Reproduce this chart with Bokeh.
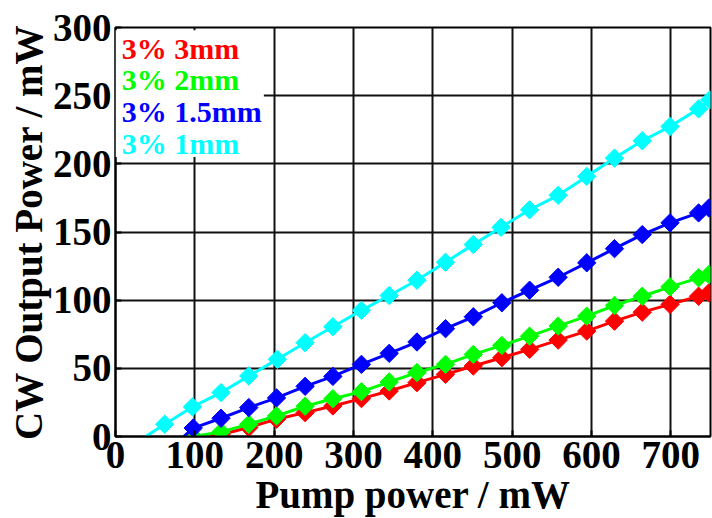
import numpy as np
from bokeh.plotting import figure
from bokeh.models import BoxAnnotation, Label, FixedTicker, Range1d
from bokeh.embed import file_html
from bokeh.resources import INLINE

# ---- data ----
series_names = ["3% 3mm", "3% 2mm", "3% 1.5mm", "3% 1mm"]
series_colors = ["#FF0000", "#00FF00", "#0000FF", "#00FFFF"]
thresholds = [120, 98, 86, 38]   # pump power where output reaches 0 mW

red_x = [133, 168, 203, 239, 274, 310, 345, 380, 416, 451, 487, 522, 558, 594, 629, 664, 699, 735, 748]
red_y = [1.5, 6.6, 12.7, 17.5, 22.4, 27.8, 33.4, 39.5, 45.6, 51.7, 57.8, 63.9, 70.7, 77.3, 84.6, 91.2, 96.9, 102.9, 105.4]

green_x = [98, 133, 168, 203, 239, 274, 310, 345, 380, 416, 451, 487, 522, 558, 594, 629, 664, 699, 735, 748]
green_y = [0.0, 3.4, 9.0, 15.1, 22.2, 27.7, 32.9, 40.0, 46.9, 52.9, 60.2, 66.8, 73.6, 81.0, 88.3, 96.1, 102.9, 109.8, 116.4, 118.8]

blue_x = [98, 133, 168, 203, 239, 274, 310, 345, 380, 416, 451, 487, 522, 558, 594, 629, 664, 699, 735, 748]
blue_y = [6.2, 13.4, 21.2, 28.3, 36.8, 44.1, 52.9, 61.0, 69.3, 79.1, 87.8, 98.1, 107.3, 116.8, 127.4, 137.8, 148.1, 156.7, 164.0, 167.6]

cyan_x = [62, 97, 133, 168, 204, 239, 274, 310, 345, 380, 416, 451, 486, 522, 558, 594, 629, 664, 699, 735, 749]
cyan_y = [9.0, 21.7, 32.2, 44.4, 56.6, 68.8, 80.5, 92.5, 103.4, 114.6, 127.8, 140.8, 153.4, 166.3, 176.9, 190.8, 204.2, 216.9, 227.4, 240.3, 246.9]

x_ticks = [0, 100, 200, 300, 400, 500, 600, 700]
y_ticks = [0, 50, 100, 150, 200, 250, 300]
x_title = "Pump power / mW"
y_title = "CW Output Power / mW"

FONT = "Liberation Serif"

p = figure(width=712, height=518, output_backend="svg", toolbar_location=None,
           x_range=Range1d(0, 750), y_range=Range1d(0, 300),
           min_border_left=115, min_border_right=2, min_border_top=27, min_border_bottom=81)

p.outline_line_color = "black"
p.outline_line_width = 2
p.outline_line_alpha = 1.0

for ax in (p.xaxis[0], p.yaxis[0]):
    ax.axis_line_color = "black"
    ax.axis_line_width = 2
    ax.major_tick_in = 6
    ax.major_tick_out = 0
    ax.major_tick_line_width = 2
    ax.minor_tick_line_color = None
    ax.major_label_text_font = FONT
    ax.major_label_text_font_style = "bold"
    ax.major_label_text_font_size = "39px"
    ax.major_label_text_color = "black"
    ax.axis_label_text_font = FONT
    ax.axis_label_text_font_style = "bold"
    ax.axis_label_text_font_size = "39px"
    ax.axis_label_text_color = "black"

p.xaxis[0].ticker = FixedTicker(ticks=x_ticks)
p.yaxis[0].ticker = FixedTicker(ticks=y_ticks)
p.xaxis[0].axis_label = x_title
p.yaxis[0].axis_label = y_title
p.xaxis[0].major_label_standoff = 5
p.xaxis[0].axis_label_standoff = 2
p.yaxis[0].major_label_standoff = 4
p.yaxis[0].axis_label_standoff = 0

p.xgrid.ticker = FixedTicker(ticks=x_ticks)
p.ygrid.ticker = FixedTicker(ticks=y_ticks)
for g in (p.xgrid[0], p.ygrid[0]):
    g.grid_line_color = "#111111"
    g.grid_line_width = 2

all_x = [red_x, green_x, blue_x, cyan_x]
all_y = [red_y, green_y, blue_y, cyan_y]
for xs, ys, th, col in zip(all_x, all_y, thresholds, series_colors):
    lx = [th] + list(xs)
    ly = [0.0] + list(ys)
    p.line(lx, ly, line_color=col, line_width=3)
    p.scatter(xs, ys, marker="square", angle=np.pi / 4, size=13,
              fill_color=col, line_color=col, line_width=1)

# legend panel (white background, coloured text)
p.add_layout(BoxAnnotation(left=0, right=187, bottom=205, top=298,
                           fill_color="white", fill_alpha=1.0, line_color=None))
legend_y = [284.7, 262.0, 238.6, 215.1]
for name, col, ly in zip(series_names, series_colors, legend_y):
    p.add_layout(Label(x=8, y=ly, text=name, text_color=col,
                       text_font=FONT, text_font_style="bold",
                       text_font_size="30px", text_baseline="alphabetic"))

open("out.html", "w").write(file_html(p, INLINE))
